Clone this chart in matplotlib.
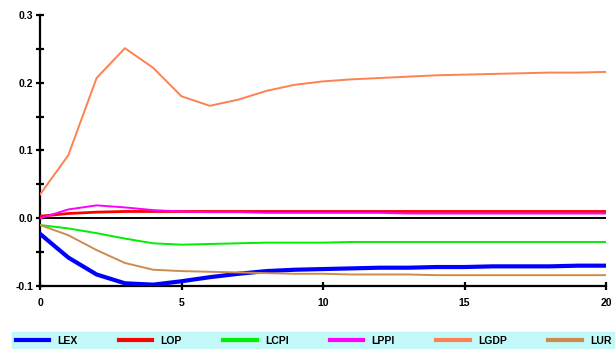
import numpy as np
import matplotlib.pyplot as plt
from matplotlib.ticker import MultipleLocator

plt.rcParams['font.family'] = ['Liberation Sans', 'DejaVu Sans']

# impulse responses, periods 0..20
periods = list(range(21))
lex = [-0.023, -0.058, -0.083, -0.096, -0.098, -0.093, -0.087, -0.082, -0.078, -0.076,
       -0.075, -0.074, -0.073, -0.073, -0.072, -0.072, -0.071, -0.071, -0.071, -0.070, -0.070]
lop = [0.003, 0.007, 0.009, 0.010, 0.010, 0.010, 0.010, 0.010, 0.010, 0.010,
       0.010, 0.010, 0.010, 0.010, 0.010, 0.010, 0.010, 0.010, 0.010, 0.010, 0.010]
lcpi = [-0.010, -0.015, -0.022, -0.030, -0.037, -0.039, -0.038, -0.037, -0.036, -0.036,
        -0.036, -0.035, -0.035, -0.035, -0.035, -0.035, -0.035, -0.035, -0.035, -0.035, -0.035]
lppi = [0.000, 0.013, 0.019, 0.016, 0.012, 0.010, 0.009, 0.009, 0.008, 0.008,
        0.008, 0.008, 0.008, 0.007, 0.007, 0.007, 0.007, 0.007, 0.007, 0.007, 0.007]
lgdp = [0.035, 0.093, 0.207, 0.251, 0.222, 0.180, 0.166, 0.175, 0.188, 0.197,
        0.202, 0.205, 0.207, 0.209, 0.211, 0.212, 0.213, 0.214, 0.215, 0.215, 0.216]
lur = [-0.010, -0.025, -0.047, -0.066, -0.076, -0.078, -0.079, -0.080, -0.081, -0.082,
       -0.082, -0.083, -0.083, -0.083, -0.084, -0.084, -0.084, -0.084, -0.084, -0.084, -0.084]

names = ['LEX', 'LOP', 'LCPI', 'LPPI', 'LGDP', 'LUR']
series = [lex, lop, lcpi, lppi, lgdp, lur]
colors = ['#0000ff', '#ff0000', '#00ee00', '#ff00ff', '#ff8050', '#cd8b50']
widths = [3.0, 2.0, 1.4, 1.4, 1.4, 1.4]

fig = plt.figure(figsize=(6.15, 3.49), dpi=100)
ax = fig.add_axes([40 / 615, 1 - 286 / 349, 566 / 615, 271 / 349])

ax.axhline(0, color='black', lw=1.4, zorder=1)
for name, s, c, w in zip(names, series, colors, widths):
    ax.plot(periods, s, color=c, lw=w, label=name, zorder=3)

ax.set_xlim(0, 20)
ax.set_ylim(-0.1, 0.3)
ax.xaxis.set_major_locator(MultipleLocator(5))
ax.yaxis.set_major_locator(MultipleLocator(0.1))
ax.yaxis.set_minor_locator(MultipleLocator(0.05))
ax.yaxis.set_major_formatter(lambda v, p: f'{v:.1f}')

for side in ['top', 'right']:
    ax.spines[side].set_visible(False)
for side in ['left', 'bottom']:
    ax.spines[side].set_linewidth(1.6)

ax.tick_params(axis='both', which='both', direction='inout', width=1.6, length=6,
               labelsize=7.5)
ax.tick_params(axis='y', pad=2)
ax.tick_params(axis='x', pad=6)
for lab in ax.get_xticklabels() + ax.get_yticklabels():
    lab.set_fontweight('bold')

# legend strip along the bottom edge
leg = fig.legend(loc='center', ncol=6, mode='expand',
                 bbox_to_anchor=(12 / 615, 0, 603 / 615, 16 / 349),
                 handlelength=3.2, frameon=True, fancybox=False,
                 borderaxespad=0, borderpad=0.35,
                 prop={'weight': 'bold', 'size': 7.5})
leg.get_frame().set_facecolor('#b4f8f8')
leg.get_frame().set_edgecolor('#b4f8f8')
for line in leg.get_lines():
    line.set_linewidth(3)

fig.savefig('out.png', dpi=100)
